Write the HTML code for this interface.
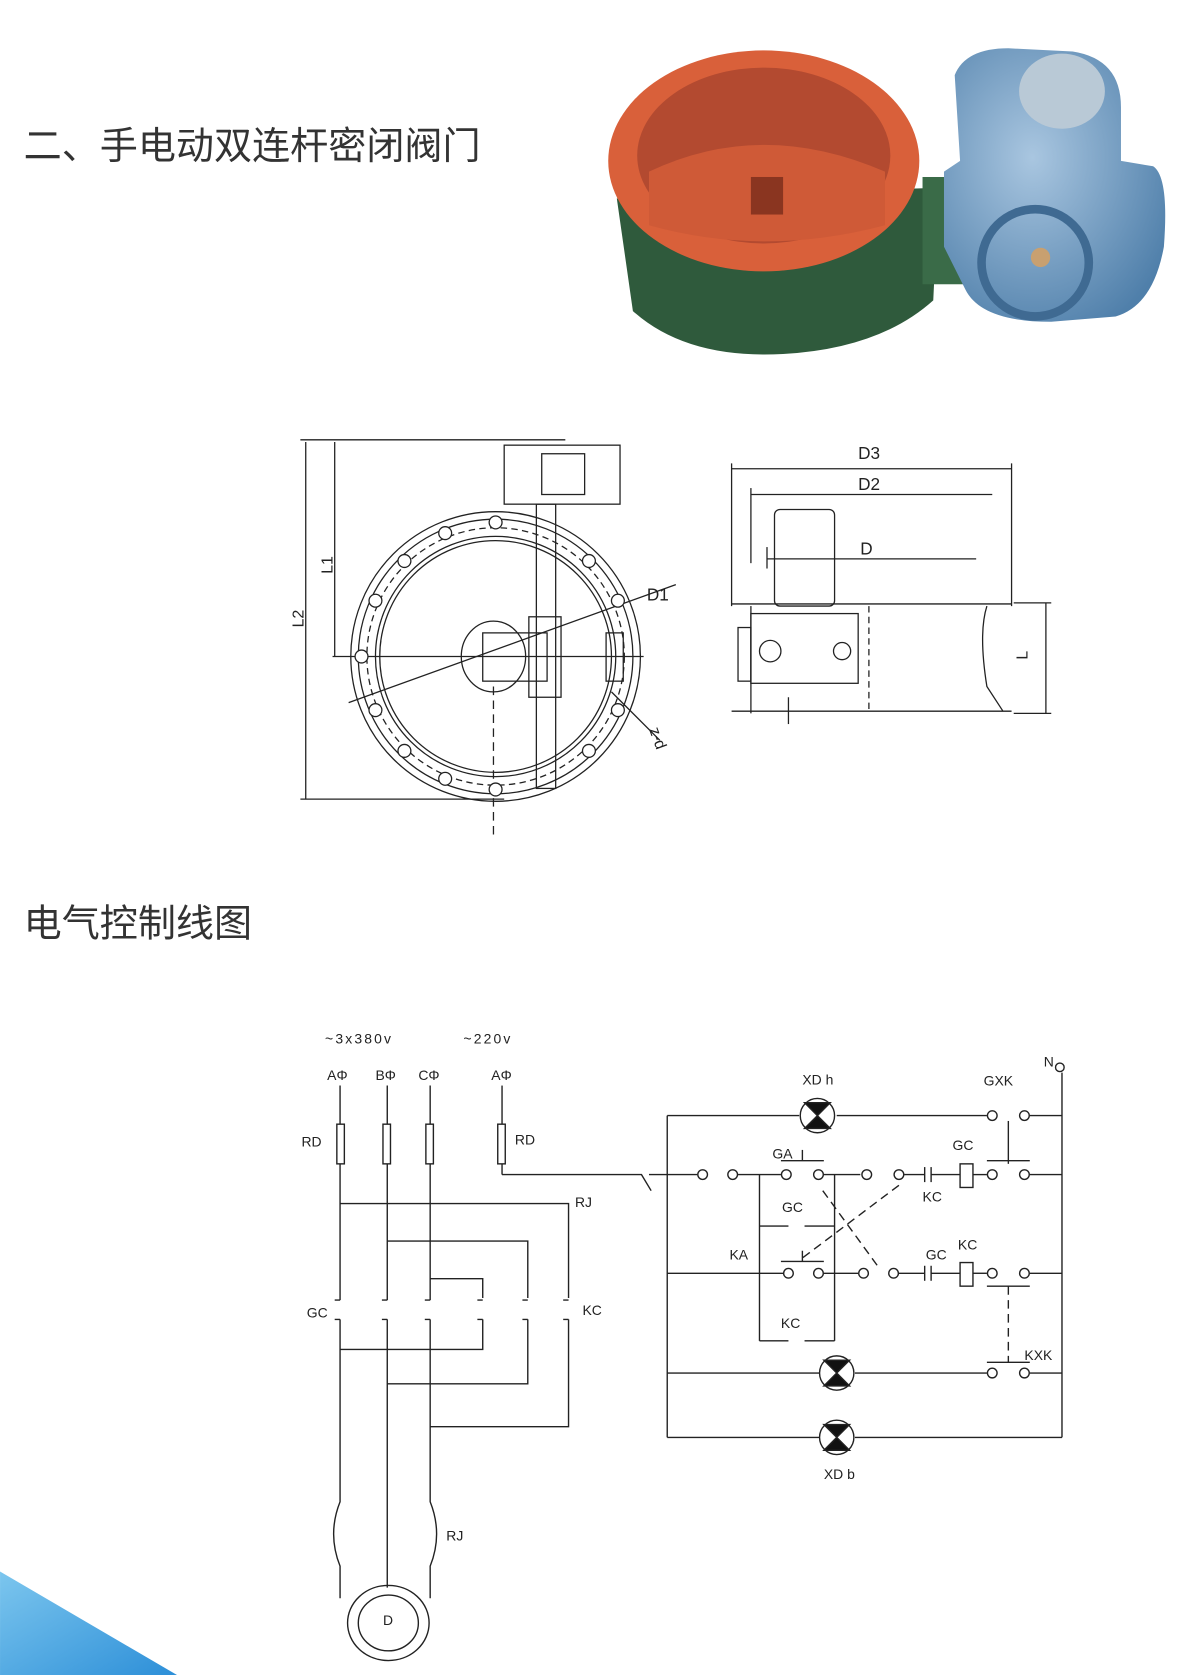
<!DOCTYPE html>
<html><head><meta charset="utf-8"><style>
html,body{margin:0;padding:0;background:#fff;}
svg{display:block;}
text{font-family:"Liberation Sans","Noto Sans CJK SC",sans-serif;}
</style></head><body>
<svg width="1180" height="1675" viewBox="0 0 1100 1561.5" xmlns="http://www.w3.org/2000/svg">
<defs>
<linearGradient id="bl" x1="0" y1="0" x2="1" y2="1"><stop offset="0" stop-color="#7cc6ee"/><stop offset="1" stop-color="#2d8fd8"/></linearGradient>
<radialGradient id="bg1" cx="0.4" cy="0.4" r="0.7"><stop offset="0" stop-color="#a9c6e0"/><stop offset="1" stop-color="#4f7faa"/></radialGradient>
</defs>
<!-- titles -->
<text x="22" y="148" font-size="35.5" fill="#333">二、手电动双连杆密闭阀门</text>
<text x="22" y="873" font-size="35.5" fill="#333">电气控制线图</text>

<!-- photo -->
<g>
<path d="M575 185 L590 290 Q640 335 730 330 Q820 325 870 280 L875 175 Z" fill="#2f5a3c"/>
<rect x="860" y="165" width="45" height="100" fill="#3a6b48"/>
<ellipse cx="712" cy="150" rx="145" ry="103" fill="#d9603a"/>
<ellipse cx="712" cy="145" rx="118" ry="82" fill="#b34a30"/>
<path d="M605 160 Q710 110 825 160 L825 210 Q712 240 605 210 Z" fill="#cf5a37"/>
<rect x="700" y="165" width="30" height="35" fill="#8a3520"/>
<path d="M890 70 Q900 45 940 45 L1000 48 Q1045 55 1045 100 L1045 150 L1075 155 Q1090 165 1085 230 Q1075 285 1040 295 L980 300 Q915 300 900 270 L880 230 L880 160 L895 150 Z" fill="url(#bg1)"/>
<ellipse cx="990" cy="85" rx="40" ry="35" fill="#b9c9d6"/>
<circle cx="965" cy="245" r="50" fill="none" stroke="#3f6a92" stroke-width="8"/>
<circle cx="970" cy="240" r="9" fill="#c8a070"/>
</g>

<!-- technical drawing left -->
<g stroke="#222" fill="none" stroke-width="1.2">
<line x1="280" y1="410" x2="527" y2="410"/>
<line x1="285" y1="412" x2="285" y2="745"/>
<line x1="312" y1="412" x2="312" y2="612"/>
<line x1="280" y1="745" x2="470" y2="745"/>
<line x1="310" y1="612" x2="600" y2="612"/>
<rect x="470" y="415" width="108" height="55"/>
<rect x="505" y="423" width="40" height="38"/>
<circle cx="462" cy="612" r="135"/>
<circle cx="462" cy="612" r="128"/>
<circle cx="462" cy="612" r="120" stroke-dasharray="6,4"/>
<circle cx="462" cy="612" r="112"/>
<circle cx="462" cy="612" r="108"/>
<ellipse cx="460" cy="612" rx="30" ry="33"/>
<rect x="500" y="470" width="18" height="265"/>
<rect x="493" y="575" width="30" height="75"/>
<rect x="450" y="590" width="60" height="45"/>
<line x1="460" y1="640" x2="460" y2="780" stroke-dasharray="8,5"/>
<line x1="325" y1="655" x2="630" y2="545"/>
<line x1="570" y1="645" x2="615" y2="690"/>
<rect x="565" y="590" width="16" height="45"/>
</g>
<g fill="#fff" stroke="#222" stroke-width="1.2">
<circle cx="462" cy="487" r="6"/><circle cx="415" cy="497" r="6"/><circle cx="377" cy="523" r="6"/><circle cx="350" cy="560" r="6"/><circle cx="337" cy="612" r="6"/><circle cx="350" cy="662" r="6"/><circle cx="377" cy="700" r="6"/><circle cx="415" cy="726" r="6"/><circle cx="462" cy="736" r="6"/><circle cx="549" cy="523" r="6"/><circle cx="576" cy="560" r="6"/><circle cx="576" cy="662" r="6"/><circle cx="549" cy="700" r="6"/>
</g>
<g font-size="15" fill="#222">
<text x="283" y="585" transform="rotate(-90 283 585)">L2</text>
<text x="310" y="535" transform="rotate(-90 310 535)">L1</text>
<text x="603" y="560" font-size="16">D1</text>
<text x="605" y="680" transform="rotate(70 605 680)">z-d</text>
<text x="800" y="428" font-size="16">D3</text>
<text x="800" y="457" font-size="16">D2</text>
<text x="802" y="517" font-size="16">D</text>
<text x="958" y="615" transform="rotate(-90 958 615)">L</text>
</g>
<!-- right view -->
<g stroke="#222" fill="none" stroke-width="1.2">
<line x1="682" y1="432" x2="682" y2="565"/><line x1="943" y1="432" x2="943" y2="565"/>
<line x1="682" y1="437" x2="943" y2="437"/>
<line x1="700" y1="455" x2="700" y2="525"/><line x1="700" y1="461" x2="925" y2="461"/>
<line x1="715" y1="510" x2="715" y2="530"/><line x1="715" y1="521" x2="910" y2="521"/>
<rect x="722" y="475" width="56" height="90" rx="5"/>
<line x1="682" y1="563" x2="943" y2="563"/>
<rect x="700" y="572" width="100" height="65"/>
<rect x="688" y="585" width="12" height="50"/>
<circle cx="718" cy="607" r="10"/><circle cx="785" cy="607" r="8"/>
<line x1="700" y1="565" x2="700" y2="665"/>
<line x1="682" y1="663" x2="943" y2="663"/>
<path d="M920 565 Q912 590 920 640 L935 663"/>
<line x1="810" y1="565" x2="810" y2="665" stroke-dasharray="6,4"/>
<line x1="975" y1="562" x2="975" y2="665"/>
<line x1="945" y1="562" x2="980" y2="562"/><line x1="945" y1="665" x2="980" y2="665"/>
<line x1="735" y1="650" x2="735" y2="675"/>
</g>

<!-- circuit -->
<g font-size="13" fill="#222">
<text x="303" y="973" letter-spacing="2">~3x380v</text>
<text x="432" y="973" letter-spacing="2">~220v</text>
<text x="305" y="1007">AΦ</text><text x="350" y="1007">BΦ</text><text x="390" y="1007">CΦ</text><text x="458" y="1007">AΦ</text>
<text x="281" y="1069">RD</text><text x="480" y="1067">RD</text>
<text x="536" y="1125">RJ</text><text x="286" y="1228">GC</text><text x="543" y="1226">KC</text>
<text x="416" y="1436">RJ</text><text x="357" y="1515">D</text>
<text x="748" y="1011">XD h</text><text x="917" y="1012">GXK</text><text x="973" y="994">N</text>
<text x="720" y="1080">GA</text><text x="888" y="1072">GC</text><text x="860" y="1120">KC</text>
<text x="729" y="1130">GC</text><text x="680" y="1174">KA</text>
<text x="863" y="1174">GC</text><text x="893" y="1165">KC</text>
<text x="728" y="1238">KC</text><text x="955" y="1268">KXK</text><text x="768" y="1379">XD b</text>
</g>
<g stroke="#222" fill="none" stroke-width="1.3">
<line x1="317" y1="1012" x2="317" y2="1212"/><line x1="361" y1="1012" x2="361" y2="1212"/><line x1="401" y1="1012" x2="401" y2="1212"/>
<line x1="468" y1="1012" x2="468" y2="1095"/>
<rect x="314" y="1048" width="7" height="37" fill="#fff"/><rect x="357" y="1048" width="7" height="37" fill="#fff"/><rect x="397" y="1048" width="7" height="37" fill="#fff"/><rect x="464" y="1048" width="7" height="37" fill="#fff"/>
<polyline points="468,1095 598,1095 607,1110"/>
<polyline points="317,1122 530,1122 530,1210"/>
<polyline points="530,1230 530,1330 401,1330"/>
<polyline points="361,1157 492,1157 492,1210"/>
<polyline points="492,1230 492,1290 361,1290"/>
<polyline points="401,1192 450,1192 450,1210"/>
<polyline points="450,1230 450,1258 317,1258"/>
<path d="M312 1212 h5 M356 1212 h5 M396 1212 h5 M445 1212 h5 M487 1212 h5 M525 1212 h5 M312 1230 h5 M356 1230 h5 M396 1230 h5 M445 1230 h5 M487 1230 h5 M525 1230 h5"/>
<path d="M317 1230 V1400 Q305 1430 317 1460 V1490"/>
<path d="M361 1230 V1480"/>
<path d="M401 1230 V1400 Q413 1430 401 1460 V1490"/>
<ellipse cx="362" cy="1513" rx="38" ry="35"/>
<ellipse cx="362" cy="1513" rx="28" ry="26"/>
<polyline points="605,1095 622,1095"/>
<line x1="622" y1="1040" x2="622" y2="1340"/>
<line x1="990" y1="1000" x2="990" y2="1340"/>
<line x1="622" y1="1040" x2="745" y2="1040"/><line x1="780" y1="1040" x2="920" y2="1040"/><line x1="960" y1="1040" x2="990" y2="1040"/>
<line x1="940" y1="1045" x2="940" y2="1085"/>
<line x1="622" y1="1095" x2="650" y2="1095"/><line x1="688" y1="1095" x2="728" y2="1095"/>
<line x1="768" y1="1095" x2="802" y2="1095"/><line x1="843" y1="1095" x2="862" y2="1095"/>
<line x1="868" y1="1095" x2="895" y2="1095"/><line x1="907" y1="1095" x2="920" y2="1095"/><line x1="960" y1="1095" x2="990" y2="1095"/>
<rect x="895" y="1085" width="12" height="22" fill="#fff"/>
<rect x="895" y="1177" width="12" height="22" fill="#fff"/>
<line x1="862" y1="1088" x2="862" y2="1102"/><line x1="868" y1="1088" x2="868" y2="1102"/>
<line x1="862" y1="1180" x2="862" y2="1194"/><line x1="868" y1="1180" x2="868" y2="1194"/>
<line x1="728" y1="1082" x2="768" y2="1082"/><line x1="748" y1="1072" x2="748" y2="1082"/>
<line x1="728" y1="1176" x2="768" y2="1176"/><line x1="748" y1="1166" x2="748" y2="1176"/>
<line x1="708" y1="1095" x2="708" y2="1250"/>
<line x1="778" y1="1095" x2="778" y2="1250"/>
<line x1="708" y1="1143" x2="735" y2="1143"/><line x1="750" y1="1143" x2="778" y2="1143"/>
<line x1="708" y1="1250" x2="735" y2="1250"/><line x1="750" y1="1250" x2="778" y2="1250"/>
<line x1="622" y1="1187" x2="730" y2="1187"/><line x1="768" y1="1187" x2="800" y2="1187"/><line x1="838" y1="1187" x2="862" y2="1187"/><line x1="868" y1="1187" x2="895" y2="1187"/><line x1="907" y1="1187" x2="920" y2="1187"/><line x1="960" y1="1187" x2="990" y2="1187"/>
<line x1="920" y1="1082" x2="960" y2="1082"/><line x1="920" y1="1199" x2="960" y2="1199"/>
<line x1="920" y1="1270" x2="960" y2="1270"/>
<line x1="940" y1="1199" x2="940" y2="1270" stroke-dasharray="8,5"/>
<line x1="767" y1="1110" x2="818" y2="1180" stroke-dasharray="8,5"/>
<line x1="838" y1="1105" x2="745" y2="1175" stroke-dasharray="8,5"/>
<line x1="622" y1="1280" x2="765" y2="1280"/><line x1="797" y1="1280" x2="920" y2="1280"/><line x1="960" y1="1280" x2="990" y2="1280"/>
<line x1="622" y1="1340" x2="765" y2="1340"/><line x1="797" y1="1340" x2="990" y2="1340"/>
</g>
<g stroke="#222" stroke-width="1.3" fill="#fff">
<circle cx="655" cy="1095" r="4.5"/><circle cx="683" cy="1095" r="4.5"/>
<circle cx="733" cy="1095" r="4.5"/><circle cx="763" cy="1095" r="4.5"/>
<circle cx="808" cy="1095" r="4.5"/><circle cx="838" cy="1095" r="4.5"/>
<circle cx="925" cy="1095" r="4.5"/><circle cx="955" cy="1095" r="4.5"/>
<circle cx="925" cy="1040" r="4.5"/><circle cx="955" cy="1040" r="4.5"/>
<circle cx="735" cy="1187" r="4.5"/><circle cx="763" cy="1187" r="4.5"/>
<circle cx="805" cy="1187" r="4.5"/><circle cx="833" cy="1187" r="4.5"/>
<circle cx="925" cy="1187" r="4.5"/><circle cx="955" cy="1187" r="4.5"/>
<circle cx="925" cy="1280" r="4.5"/><circle cx="955" cy="1280" r="4.5"/>
<circle cx="988" cy="995" r="4" />
</g>
<g stroke="#222" stroke-width="1.3">
<circle cx="762" cy="1040" r="16" fill="#fff"/>
<path d="M750 1028 L774 1028 L762 1040 Z M750 1052 L774 1052 L762 1040 Z" fill="#111"/>
<circle cx="780" cy="1280" r="16" fill="#fff"/>
<path d="M768 1268 L792 1268 L780 1280 Z M768 1292 L792 1292 L780 1280 Z" fill="#111"/>
<circle cx="780" cy="1340" r="16" fill="#fff"/>
<path d="M768 1328 L792 1328 L780 1340 Z M768 1352 L792 1352 L780 1340 Z" fill="#111"/>
</g>
<path d="M0 1465 L165 1561.5 L0 1561.5 Z" fill="url(#bl)"/>
</svg>
</body></html>
